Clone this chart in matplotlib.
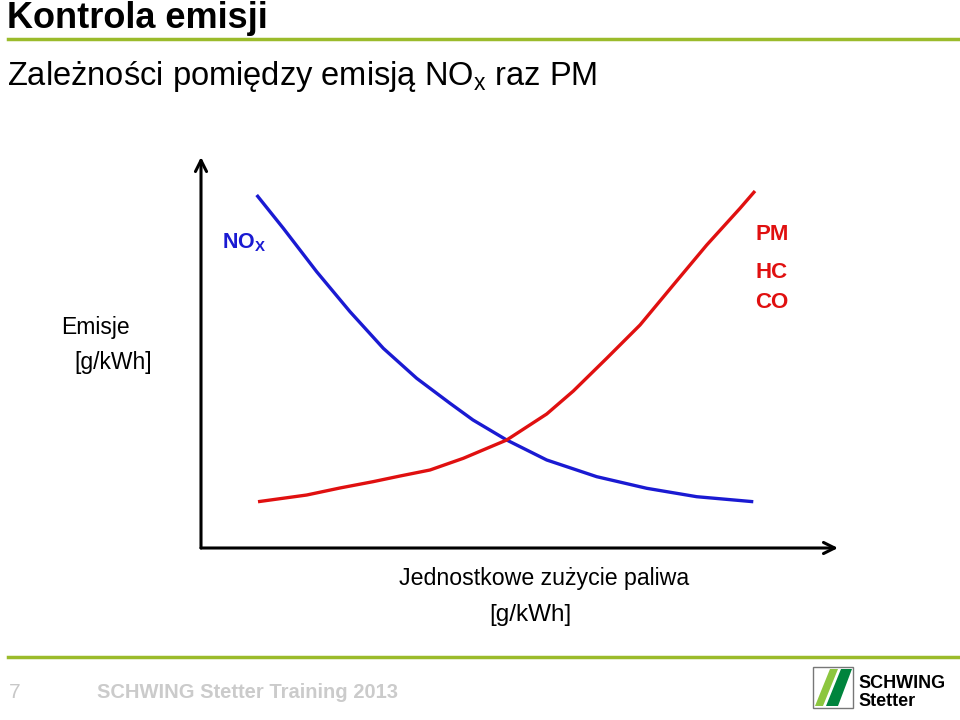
import numpy as np
import matplotlib.pyplot as plt
from matplotlib.patches import Polygon, Rectangle
from matplotlib.lines import Line2D

# (jednostki umowne 0-100)
x_nox = [8.74, 12.92, 18.16, 23.39, 28.62, 33.86, 39.09, 42.70, 47.99, 54.27,
         62.12, 69.97, 77.82, 86.70]
y_nox = [90.28, 81.77, 70.66, 60.44, 51.07, 43.40, 37.01, 32.74, 27.62, 22.51,
         18.24, 15.27, 13.12, 11.84]

x_pm = [8.95, 16.59, 21.82, 27.00, 31.24, 35.95, 41.18, 47.99, 54.27, 58.45, 63.69,
        68.92, 74.14, 79.39, 84.62, 86.97]
y_pm = [11.84, 13.55, 15.35, 16.96, 18.41, 19.95, 22.94, 27.62, 34.27, 40.15, 48.52,
        57.03, 67.26, 77.49, 86.88, 91.30]

W, H = 960, 720
GREEN = '#9bbb2b'
ARIAL = ['Liberation Sans', 'DejaVu Sans']


def fx(px):
    return px / W


def fy(py):
    return 1 - py / H


fig = plt.figure(figsize=(9.6, 7.2), dpi=100)

# naglowek
fig.text(fx(7), fy(19), 'Kontrola emisji', family=ARIAL, fontsize=26,
         fontweight='bold', va='center', ha='left')
fig.add_artist(Line2D([fx(8), fx(958)], [fy(39), fy(39)], color=GREEN, lw=2.5))
fig.text(fx(7), fy(76), r'Zależności pomiędzy emisją NO$_\mathregular{x}$ raz PM',
         family=ARIAL, fontsize=23.5, va='center', ha='left')

# os wykresu
ax = fig.add_axes([fx(201), fy(548), fx(838) - fx(201), fy(157) - fy(548)])
ax.set_xlim(0, 100)
ax.set_ylim(0, 100)
ax.axis('off')

ax.plot(x_nox, y_nox, color='#1a1ad2', lw=2.4, solid_capstyle='butt',
        solid_joinstyle='round')
ax.plot(x_pm, y_pm, color='#e01010', lw=2.4, solid_capstyle='butt',
        solid_joinstyle='round')

ax.annotate('', xy=(0, 1), xytext=(0, 0), xycoords='axes fraction',
            arrowprops=dict(arrowstyle='->', lw=2.2, color='black',
                            mutation_scale=20, shrinkA=0, shrinkB=0))
ax.annotate('', xy=(1, 0), xytext=(0, 0), xycoords='axes fraction',
            arrowprops=dict(arrowstyle='->', lw=2.2, color='black',
                            mutation_scale=20, shrinkA=0, shrinkB=0))

# etykiety krzywych
fig.text(fx(222), fy(243), r'NO$_\mathregular{X}$', family=ARIAL, fontsize=15.5,
         fontweight='bold', color='#1a1ad2', va='center', ha='left')
for txt, py in [('PM', 235), ('HC', 273), ('CO', 302)]:
    fig.text(fx(772), fy(py), txt, family=ARIAL, fontsize=16, fontweight='bold',
             color='#e01010', va='center', ha='center')

# opisy osi
fig.text(fx(95), fy(328), 'Emisje', family=ARIAL, fontsize=16.5, va='center', ha='center')
fig.text(fx(113), fy(363), '[g/kWh]', family=ARIAL, fontsize=16.5, va='center', ha='center')
fig.text(fx(544), fy(579), 'Jednostkowe zużycie paliwa', family=ARIAL, fontsize=16.7,
         va='center', ha='center')
fig.text(fx(530), fy(615), '[g/kWh]', family=ARIAL, fontsize=17.5, va='center', ha='center')

# stopka
fig.add_artist(Line2D([fx(8), fx(958)], [fy(657), fy(657)], color=GREEN, lw=2.5))
fig.text(fx(9), fy(693), '7', family=ARIAL, fontsize=15, color='#c8c8c8',
         va='center', ha='left')
fig.text(fx(97), fy(693), 'SCHWING Stetter Training 2013', family=ARIAL, fontsize=14.5,
         fontweight='bold', color='#cbcbcb', va='center', ha='left')

# logo
fig.add_artist(Rectangle((fx(813), fy(708)), fx(40), fy(667) - fy(708),
                         transform=fig.transFigure, facecolor='white',
                         edgecolor='#777777', lw=1))
fig.add_artist(Polygon([(fx(815), fy(706)), (fx(823), fy(706)), (fx(838), fy(669)),
                        (fx(830), fy(669))], transform=fig.transFigure,
                       facecolor='#8cc63f', edgecolor='none'))
fig.add_artist(Polygon([(fx(826), fy(706)), (fx(838), fy(706)), (fx(852), fy(669)),
                        (fx(841), fy(669))], transform=fig.transFigure,
                       facecolor='#00843d', edgecolor='none'))
fig.text(fx(858), fy(684), 'SCHWING', family=ARIAL, fontsize=13, fontweight='bold',
         va='center', ha='left')
fig.text(fx(858), fy(701), 'Stetter', family=ARIAL, fontsize=13, fontweight='bold',
         va='center', ha='left')

fig.savefig('out.png', dpi=100)
